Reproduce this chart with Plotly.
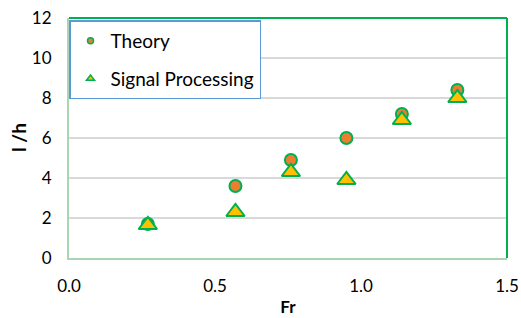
import plotly.graph_objects as go

fr = [0.27, 0.57, 0.76, 0.95, 1.14, 1.33]
theory = [1.7, 3.6, 4.9, 6.0, 7.2, 8.4]
signal = [1.65, 2.3, 4.3, 3.9, 6.9, 8.0]

GREEN = "#00B050"
FONT = "Lato"

fig = go.Figure()
fig.add_trace(go.Scatter(x=fr, y=theory, mode="markers", showlegend=False,
                         marker=dict(symbol="circle", size=12, color="#ED7D31",
                                     line=dict(color=GREEN, width=2))))
fig.add_trace(go.Scatter(x=fr, y=signal, mode="markers", showlegend=False,
                         marker=dict(symbol="triangle-up", size=16, color="#FFC000",
                                     line=dict(color=GREEN, width=2))))
# legend entries
fig.add_trace(go.Scatter(x=[None], y=[None], mode="markers", name="Theory", legendgroup="a",
                         marker=dict(symbol="circle", size=6, color="#ED7D31",
                                     line=dict(color=GREEN, width=1.5))))
fig.add_trace(go.Scatter(x=[None], y=[None], mode="markers", name="Signal Processing", legendgroup="b",
                         marker=dict(symbol="triangle-up", size=7, color="#FFC000",
                                     line=dict(color=GREEN, width=1.5))))

fig.update_layout(
    width=521, height=318,
    margin=dict(l=69, r=14, t=18, b=60),
    paper_bgcolor="white", plot_bgcolor="white",
    font=dict(family=FONT, size=17, color="#000000"),
    legend=dict(x=0.0, y=0.99, xanchor="left", yanchor="top",
                bordercolor="#5B9BD5", borderwidth=1.5, bgcolor="white",
                font=dict(size=19), tracegroupgap=10, itemwidth=30),
    xaxis=dict(range=[0, 1.5], dtick=0.5, tickformat=".1f", showgrid=False,
               zeroline=False, showline=True, linecolor="#A9D5B5", linewidth=2,
               ticks="", ticklabelstandoff=12, automargin=False,
               title=dict(text="<b>Fr</b>", font=dict(size=17), standoff=6)),
    yaxis=dict(range=[0, 12], dtick=2, showgrid=True, gridcolor="#D9D9D9", gridwidth=1.5,
               zeroline=False, showline=True, linecolor="#A9D5B5", linewidth=2,
               ticks="", ticklabelstandoff=12, automargin=False),
    annotations=[
        dict(text="<b>l /h</b>", xref="paper", yref="paper", x=-51 / 438, y=0.5,
             xanchor="center", yanchor="middle", textangle=-90, showarrow=False,
             font=dict(size=19)),
    ],
    shapes=[
        dict(type="line", xref="paper", yref="paper", x0=0, x1=1, y0=1, y1=1,
             line=dict(color=GREEN, width=2)),
        dict(type="line", xref="paper", yref="paper", x0=1, x1=1, y0=0, y1=1,
             line=dict(color=GREEN, width=2)),
    ],
)

fig.write_html("out.html", config={"displayModeBar": False},
               post_script="document.body.style.margin='0';")
